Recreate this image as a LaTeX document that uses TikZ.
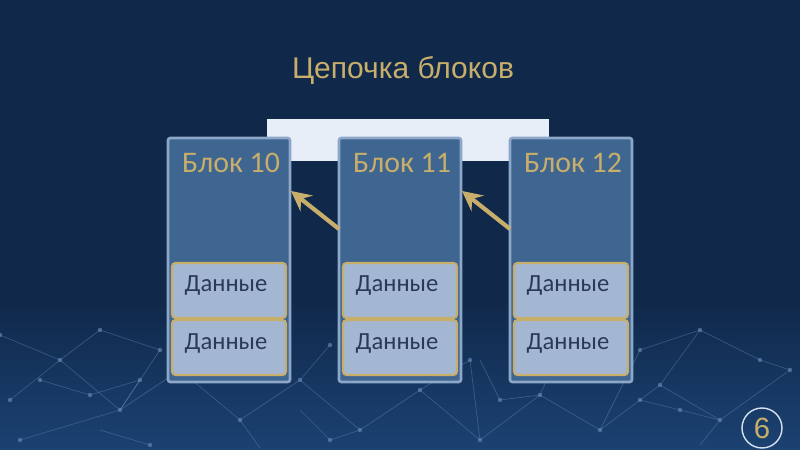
\documentclass[tikz,border=0pt]{standalone}
\usepackage{fontspec}
\usetikzlibrary{arrows.meta}
\setmainfont{Carlito}
\newfontfamily\titlefont{Liberation Sans}
\definecolor{bgnavy}{HTML}{10284A}
\definecolor{bglow}{HTML}{1B4272}
\definecolor{blockfill}{HTML}{3F6591}
\definecolor{blockedge}{HTML}{8DA7C9}
\definecolor{datafill}{HTML}{A3B7D3}
\definecolor{gold}{HTML}{C7AE6A}
\definecolor{datatext}{HTML}{293A57}
\definecolor{hdrwhite}{HTML}{E8EEF7}
\definecolor{netline}{HTML}{6A8FBE}
\begin{document}
\begin{tikzpicture}[x=0.03cm,y=-0.03cm,
  blockbox/.style={draw=blockedge,line width=2.2pt,fill=blockfill,rounded corners=2pt},
  databox/.style={draw=gold,line width=1.8pt,fill=datafill,rounded corners=3pt},
  datalabel/.style={text=datatext,font=\fontsize{21}{23}\selectfont},
  blocktitle/.style={text=gold,font=\fontsize{25.5}{28}\selectfont},
  linkarrow/.style={draw=gold,line width=3.6pt,-{Stealth[length=17pt,width=17pt,inset=6pt]}},
  netedge/.style={draw=netline,line width=0.6pt,opacity=0.4},
  netdot/.style={fill=netline,opacity=0.6}]
\useasboundingbox (0,0) rectangle (800,450);
% background
\fill[bgnavy] (0,0) rectangle (800,450);
\shade[top color=bgnavy,bottom color=bglow] (0,300) rectangle (800,450);
% faint network
\foreach \a/\b/\c/\d in {10/400/60/360,60/360/120/410,120/410/180/370,180/370/240/420,
  240/420/300/380,300/380/360/430,360/430/420/390,420/390/480/440,480/440/540/395,
  540/395/600/430,600/430/660/385,660/385/720/420,720/420/790/370,60/360/100/330,
  100/330/160/350,600/430/640/350,640/350/700/330,700/330/760/360,760/360/790/370,
  20/440/120/410,300/380/330/345,480/440/470/360,540/395/560/350,660/385/700/330,
  0/335/60/360,420/390/470/360,160/350/120/410,720/420/700/445,240/420/260/448,
  40/380/90/395,90/395/140/380,140/380/120/410,480/360/500/400,500/400/540/395,
  640/400/680/410,680/410/720/420,300/410/330/440,330/440/360/430,100/430/150/445} {
  \draw[netedge] (\a,\b) -- (\c,\d);
}
\foreach \p/\q in {10/400,60/360,120/410,180/370,240/420,300/380,360/430,420/390,480/440,
  540/395,600/430,660/385,720/420,790/370,100/330,160/350,640/350,700/330,760/360,
  20/440,330/345,470/360,560/350,0/335,40/380,90/395,140/380,500/400,640/400,680/410,
  330/440,150/445} {
  \fill[netdot] (\p,\q) circle (2.2);
}
% title
\node[text=gold,font=\titlefont\fontsize{25.6}{30}\selectfont] (title) at (403,70) {Цепочка блоков};
% header bar
\fill[hdrwhite] (267,119) rectangle (549,161);
% blocks
\foreach \n/\x in {10/168,11/339,12/510} {
  \draw[blockbox] (\x,138) rectangle ++(122,244);
  \node[blocktitle] (t\n) at ({\x+63},163) {Блок \n};
  \draw[databox] ({\x+4},263) rectangle ({\x+118},318);
  \draw[databox] ({\x+4},320) rectangle ({\x+118},375);
  \node[datalabel] (d\n a) at ({\x+58},286) {Данные};
  \node[datalabel] (d\n b) at ({\x+58},344) {Данные};
}
% links
\coordinate (a1s) at (339,229);
\coordinate (a1e) at (291,191);
\coordinate (a2s) at (510,229);
\coordinate (a2e) at (462,191);
\draw[linkarrow] (a1s) -- (a1e);
\draw[linkarrow] (a2s) -- (a2e);
% page number
\node[draw=hdrwhite!80!blockedge,line width=1.2pt,circle,minimum size=1.2cm,
  inner sep=0pt,text=gold,font=\titlefont\fontsize{25}{27}\selectfont] (pg) at (762,428) {6};
\end{tikzpicture}
\end{document}
